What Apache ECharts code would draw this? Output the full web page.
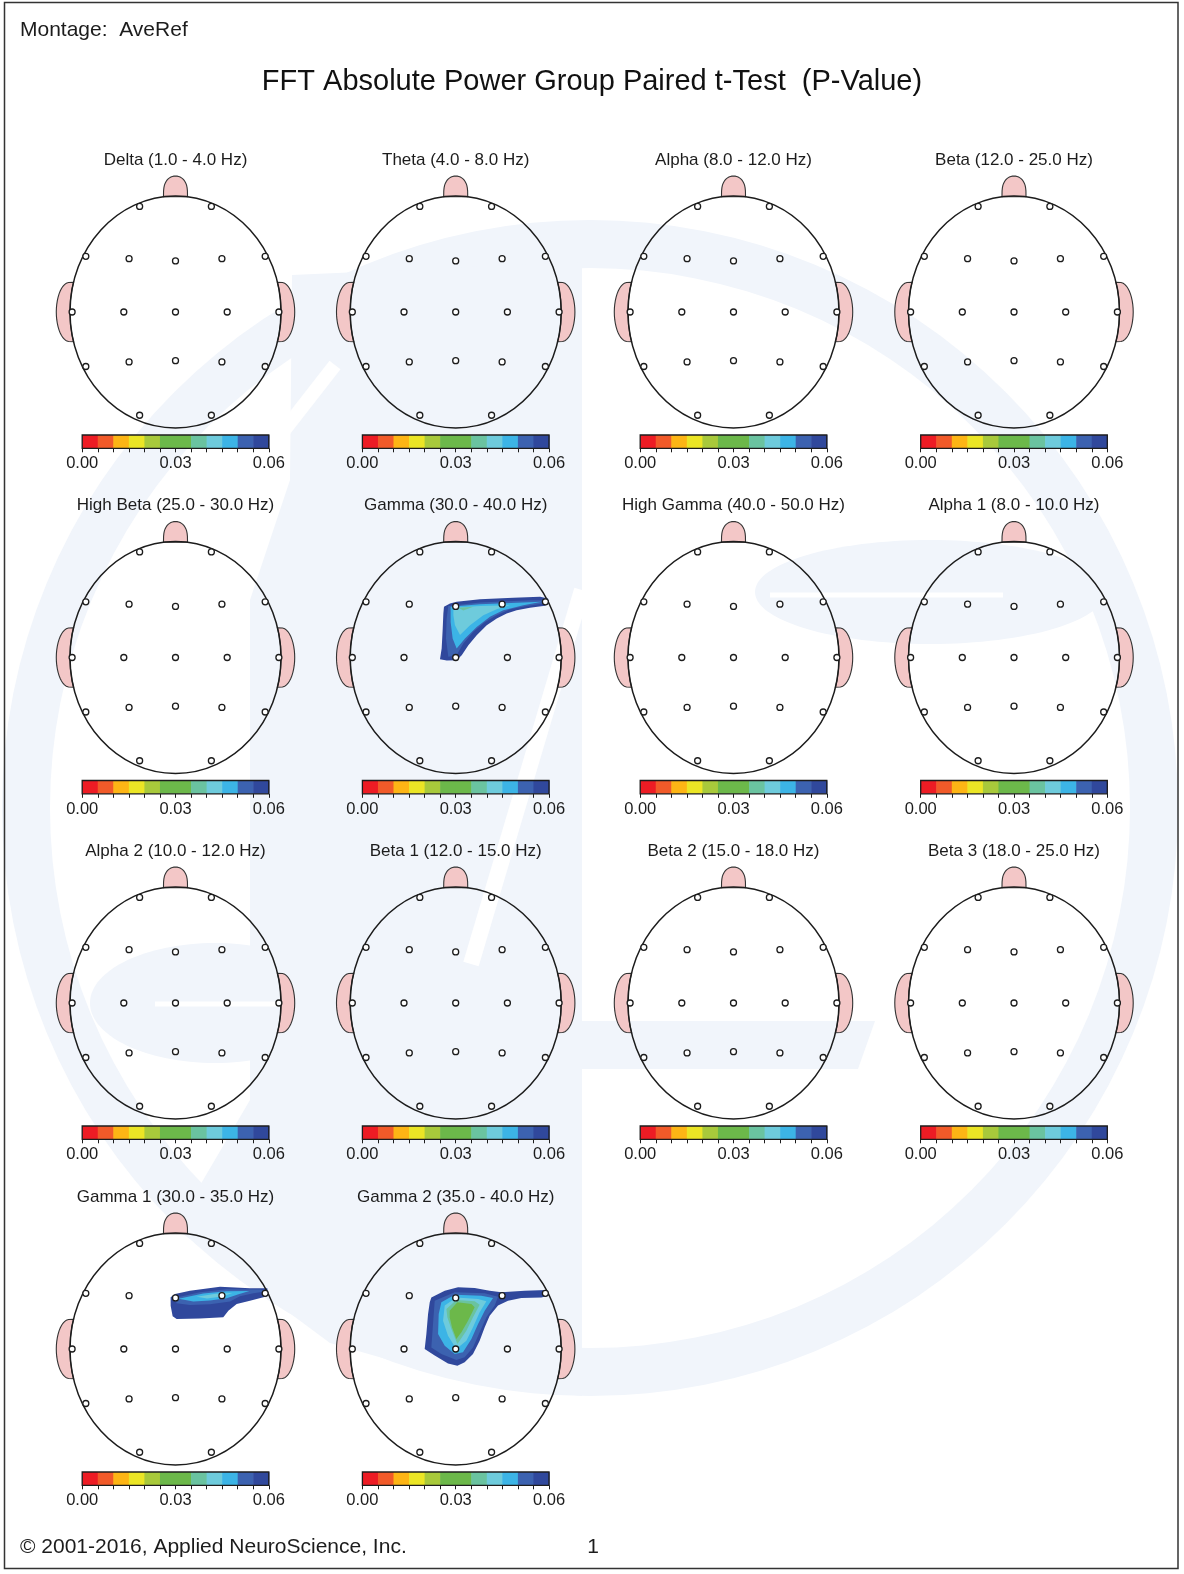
<!DOCTYPE html>
<html>
<head>
<meta charset="utf-8">
<title>FFT Absolute Power Group Paired t-Test (P-Value)</title>
<script src="https://cdn.jsdelivr.net/npm/echarts@6.0.0/dist/echarts.min.js"></script>
<style>
  html, body { margin: 0; padding: 0; background: #fff; }
  #chart { width: 1184px; height: 1574px; }
</style>
</head>
<body>
<div id="chart"></div>
<script>
// one head map per band, row by row
const bandTitles = [
  'Delta (1.0 - 4.0 Hz)', 'Theta (4.0 - 8.0 Hz)', 'Alpha (8.0 - 12.0 Hz)', 'Beta (12.0 - 25.0 Hz)',
  'High Beta (25.0 - 30.0 Hz)', 'Gamma (30.0 - 40.0 Hz)', 'High Gamma (40.0 - 50.0 Hz)', 'Alpha 1 (8.0 - 10.0 Hz)',
  'Alpha 2 (10.0 - 12.0 Hz)', 'Beta 1 (12.0 - 15.0 Hz)', 'Beta 2 (15.0 - 18.0 Hz)', 'Beta 3 (18.0 - 25.0 Hz)',
  'Gamma 1 (30.0 - 35.0 Hz)', 'Gamma 2 (35.0 - 40.0 Hz)'
]

// 10-20 electrodes in head units (x to the right, y towards the nose)
const electrodeNames = ['Fp1', 'Fp2', 'F7', 'F3', 'Fz', 'F4', 'F8', 'T3', 'C3', 'Cz', 'C4', 'T4', 'T5', 'P3', 'Pz', 'P4', 'T6', 'O1', 'O2']
const electrodeX = [-0.34, 0.34, -0.85, -0.44, 0, 0.44, 0.85, -0.98, -0.49, 0, 0.49, 0.98, -0.85, -0.44, 0, 0.44, 0.85, -0.34, 0.34]
const electrodeY = [0.91, 0.91, 0.48, 0.46, 0.44, 0.46, 0.48, 0, 0, 0, 0, 0, -0.47, -0.43, -0.42, -0.43, -0.47, -0.89, -0.89]

// p-value colour bar
const pBreaks = [0.000, 0.005, 0.010, 0.015, 0.020, 0.025, 0.030, 0.035, 0.040, 0.045, 0.050, 0.055, 0.060]
const pColors = ['#ed1c24', '#f15a29', '#fdb515', '#ebe525', '#a8c93b', '#6cb84a', '#6cb84a', '#6ac3a0', '#6ecbdc', '#3cb4e6', '#3c62b0', '#30489c']
const pTickLabels = [0.00, 0.03, 0.06]

// significant areas: upper p bound of each contour, then its outline in head units
const gammaLevels = [0.060, 0.055, 0.050, 0.045, 0.040]
const gammaContours = [
  [[-0.111, 0.437], [-0.054, 0.466], [0.009, 0.48], [0.23, 0.503], [0.546, 0.515], [0.80, 0.523], [0.875, 0.509], [0.885, 0.47], [0.846, 0.446], [0.704, 0.428], [0.578, 0.408], [0.483, 0.379], [0.389, 0.336], [0.294, 0.279], [0.199, 0.192], [0.12, 0.106], [0.057, 0.02], [0.009, -0.023], [-0.085, -0.026], [-0.149, -0.015], [-0.133, 0.078], [-0.123, 0.25], [-0.117, 0.379]],
  [[-0.070, 0.445], [0.230, 0.474], [0.704, 0.494], [0.846, 0.494], [0.831, 0.466], [0.673, 0.445], [0.515, 0.417], [0.388, 0.365], [0.278, 0.307], [0.167, 0.221], [0.072, 0.121], [0.009, 0.020], [-0.070, 0.006], [-0.092, 0.164], [-0.086, 0.336]],
  [[-0.048, 0.437], [0.230, 0.460], [0.641, 0.474], [0.815, 0.480], [0.641, 0.451], [0.451, 0.408], [0.325, 0.351], [0.199, 0.264], [0.088, 0.164], [0.009, 0.078], [-0.029, 0.164], [-0.048, 0.307]],
  [[-0.022, 0.428], [0.230, 0.445], [0.515, 0.451], [0.388, 0.417], [0.262, 0.365], [0.136, 0.279], [0.041, 0.193], [-0.007, 0.279], [-0.022, 0.365]],
  [[0.025, 0.428], [0.167, 0.437], [0.072, 0.405]]
]

const gamma1Levels = [0.060, 0.055, 0.050, 0.045]
const gamma1Contours = [
  [[-0.046, 0.446], [-0.005, 0.474], [0.137, 0.503], [0.422, 0.537], [0.706, 0.523], [0.87, 0.523], [0.88, 0.460], [0.833, 0.446], [0.706, 0.417], [0.580, 0.388], [0.501, 0.330], [0.453, 0.273], [0.232, 0.264], [0.011, 0.259], [-0.027, 0.282], [-0.046, 0.373]],
  [[-0.010, 0.440], [0.232, 0.490], [0.485, 0.515], [0.801, 0.512], [0.864, 0.497], [0.738, 0.480], [0.611, 0.455], [0.517, 0.410], [0.327, 0.385], [0.137, 0.380], [0.011, 0.395]],
  [[0.030, 0.433], [0.264, 0.478], [0.485, 0.498], [0.700, 0.499], [0.590, 0.470], [0.485, 0.438], [0.327, 0.418], [0.169, 0.410]],
  [[0.200, 0.450], [0.380, 0.476], [0.540, 0.482], [0.440, 0.452], [0.300, 0.436]]
]

const gamma2Levels = [0.060, 0.055, 0.050, 0.045, 0.040, 0.035]
const gamma2Contours = [
  [[-0.231, 0.445], [-0.104, 0.503], [0.022, 0.532], [0.180, 0.526], [0.322, 0.503], [0.433, 0.489], [0.654, 0.503], [0.859, 0.509], [0.88, 0.489], [0.88, 0.460], [0.812, 0.445], [0.622, 0.440], [0.496, 0.417], [0.401, 0.374], [0.322, 0.287], [0.275, 0.187], [0.227, 0.072], [0.164, -0.043], [0.085, -0.115], [0.016, -0.144], [-0.073, -0.124], [-0.199, -0.057], [-0.294, 0], [-0.278, 0.129], [-0.262, 0.302], [-0.246, 0.402]],
  [[-0.199, 0.417], [-0.009, 0.489], [0.275, 0.480], [0.401, 0.451], [0.370, 0.374], [0.291, 0.273], [0.227, 0.144], [0.164, 0.014], [0.085, -0.072], [0.006, -0.095], [-0.136, -0.043], [-0.231, 0.014], [-0.215, 0.216]],
  [[-0.136, 0.402], [-0.009, 0.468], [0.243, 0.460], [0.354, 0.440], [0.275, 0.330], [0.212, 0.216], [0.149, 0.086], [0.069, -0.029], [-0.009, -0.043], [-0.104, 0.029], [-0.167, 0.129], [-0.161, 0.302]],
  [[-0.104, 0.374], [0.006, 0.445], [0.212, 0.431], [0.291, 0.411], [0.227, 0.316], [0.164, 0.187], [0.101, 0.072], [0.006, 0], [-0.073, 0.115], [-0.120, 0.244]],
  [[-0.088, 0.345], [0.006, 0.422], [0.180, 0.411], [0.227, 0.382], [0.164, 0.273], [0.101, 0.158], [0.016, 0.043], [-0.041, 0.172], [-0.079, 0.273]],
  [[-0.057, 0.330], [0.016, 0.402], [0.149, 0.388], [0.180, 0.359], [0.117, 0.244], [0.054, 0.144], [0.006, 0.086], [-0.035, 0.187], [-0.057, 0.273]]
]

const contourMaps = {
  5: { levels: gammaLevels, shapes: gammaContours },
  12: { levels: gamma1Levels, shapes: gamma1Contours },
  13: { levels: gamma2Levels, shapes: gamma2Contours }
}

// page layout
const colCenters = [175.5, 455.7, 733.5, 1014]
const rowCenters = [312, 657.5, 1003, 1349]
const headRx = 105.5
const headRy = 116
const span = 1.3
const font = '"Liberation Sans", Arial, Helvetica, sans-serif'
const ink = '#1c1c1c'
const pink = '#f3c7c7'

const grid = []
const xAxis = []
const yAxis = []
const series = []
const colorSeries = []
const graphic = []

// faint logo watermark behind the maps
const tint = '#f1f5fb'
graphic.push(
  { type: 'ring', z: 0, silent: true, shape: { cx: 590, cy: 808, r: 588, r0: 540 }, style: { fill: tint } },
  { type: 'polygon', z: 0, silent: true, shape: { points: [[292, 275], [582, 262], [582, 1396], [470, 1383], [330, 1343], [175, 1228], [250, 1100], [250, 600], [290, 480]] }, style: { fill: tint } },
  { type: 'ellipse', z: 0, silent: true, shape: { cx: 215, cy: 1003, rx: 125, ry: 60 }, style: { fill: tint } },
  { type: 'ellipse', z: 0, silent: true, shape: { cx: 930, cy: 592, rx: 175, ry: 52 }, style: { fill: tint } },
  { type: 'polygon', z: 0, silent: true, shape: { points: [[582, 1021], [875, 1021], [858, 1069], [582, 1069]] }, style: { fill: tint } },
  { type: 'line', z: 1, silent: true, shape: { x1: 275, y1: 442, x2: 335, y2: 365 }, style: { stroke: '#fff', lineWidth: 14 } },
  { type: 'line', z: 1, silent: true, shape: { x1: 582, y1: 590, x2: 471, y2: 964 }, style: { stroke: '#fff', lineWidth: 16 } },
  { type: 'line', z: 1, silent: true, shape: { x1: 155, y1: 1004, x2: 280, y2: 1004 }, style: { stroke: '#fff', lineWidth: 5 } },
  { type: 'line', z: 1, silent: true, shape: { x1: 770, y1: 595, x2: 1003, y2: 595 }, style: { stroke: '#fff', lineWidth: 5 } }
)

// head outline, nose and ears, drawn in data units of the head grid
const renderHead = (params, api) => {
  const c = api.coord([0, 0])
  const rx = api.size([1, 0])[0]
  const ry = api.size([0, 1])[1]
  const earHalf = 0.256
  const earDepth = 0.13
  const ear = (side) => {
    const pts = []
    for (let k = 0; k <= 24; k++) {
      const t = (Math.PI * k) / 24
      const v = earHalf * Math.cos(t)
      const edge = Math.sqrt(1 - v * v)
      pts.push([c[0] + side * rx * (edge + earDepth * Math.pow(Math.sin(t), 0.5)), c[1] - ry * v])
    }
    for (let k = 24; k >= 0; k--) {
      const v = earHalf * Math.cos((Math.PI * k) / 24)
      pts.push([c[0] + side * rx * Math.sqrt(1 - v * v), c[1] - ry * v])
    }
    return { type: 'polygon', shape: { points: pts }, style: { fill: pink, stroke: '#333', lineWidth: 1.1 } }
  }
  const nosePts = []
  for (let k = 0; k <= 24; k++) {
    const t = (Math.PI * k) / 24
    const u = 0.114 * Math.cos(t)
    nosePts.push([c[0] + rx * u, c[1] - ry * (Math.sqrt(1 - u * u) + 0.172 * Math.pow(Math.sin(t), 0.6))])
  }
  return {
    type: 'group',
    children: [
      ear(-1),
      ear(1),
      { type: 'polygon', shape: { points: nosePts }, style: { fill: pink, stroke: '#333', lineWidth: 1.1 } },
      { type: 'ellipse', shape: { cx: c[0], cy: c[1], rx: rx, ry: ry }, style: { fill: 'none', stroke: ink, lineWidth: 1.5 } }
    ]
  }
}

bandTitles.forEach((title, i) => {
  const cx = colCenters[i % 4]
  const cy = rowCenters[Math.floor(i / 4)]

  // head grid
  const g = grid.length
  grid.push({ left: cx - span * headRx, top: cy - span * headRy, width: 2 * span * headRx, height: 2 * span * headRy, outerBoundsMode: 'none' })
  xAxis.push({ gridIndex: g, type: 'value', min: -span, max: span, show: false })
  yAxis.push({ gridIndex: g, type: 'value', min: -span, max: span, show: false })

  const m = contourMaps[i]
  if (m) {
    colorSeries.push(series.length)
    series.push({
      type: 'custom',
      xAxisIndex: g,
      yAxisIndex: g,
      z: 2,
      silent: true,
      data: m.levels.map((p, k) => [p, k]),
      renderItem: (params, api) => ({
        type: 'polygon',
        shape: { points: m.shapes[params.dataIndex].map((pt) => api.coord(pt)) },
        style: { fill: api.visual('color') }
      })
    })
  }

  series.push({
    type: 'custom',
    xAxisIndex: g,
    yAxisIndex: g,
    z: 3,
    silent: true,
    data: [[0, 0]],
    renderItem: renderHead
  })

  series.push({
    type: 'scatter',
    xAxisIndex: g,
    yAxisIndex: g,
    z: 4,
    silent: true,
    symbol: 'circle',
    symbolSize: 6,
    itemStyle: { color: '#fff', borderColor: ink, borderWidth: 1.3, opacity: 1 },
    data: electrodeNames.map((n, k) => ({ name: n, value: [electrodeX[k], electrodeY[k]] }))
  })

  // colour bar under the head
  const b = grid.length
  grid.push({ left: cx - 93.3, top: cy + 123, width: 186.6, height: 13.3, outerBoundsMode: 'none' })
  xAxis.push({
    gridIndex: b,
    type: 'value',
    min: 0,
    max: 0.06,
    interval: 0.005,
    axisLine: { show: false },
    splitLine: { show: false },
    axisTick: { show: true, inside: false, length: 4, lineStyle: { color: ink, width: 1 } },
    axisLabel: {
      show: true,
      margin: 7,
      color: ink,
      fontSize: 16.5,
      fontFamily: font,
      showMinLabel: true,
      showMaxLabel: true,
      formatter: (v) => {
        const t = pTickLabels.find((x) => Math.abs(x - v) < 1e-9)
        return t === undefined ? '' : t.toFixed(2)
      }
    }
  })
  yAxis.push({ gridIndex: b, type: 'value', min: 0, max: 1, show: false })
  colorSeries.push(series.length)
  series.push({
    type: 'custom',
    xAxisIndex: b,
    yAxisIndex: b,
    z: 2,
    silent: true,
    data: pColors.map((c, k) => [pBreaks[k + 1], pBreaks[k]]),
    renderItem: (params, api) => {
      const p0 = api.coord([api.value(1), 0])
      const p1 = api.coord([api.value(0), 1])
      const children = [{
        type: 'rect',
        shape: { x: p0[0], y: p1[1], width: p1[0] - p0[0] + 0.6, height: p0[1] - p1[1] },
        style: { fill: api.visual('color') }
      }]
      if (params.dataIndex === pColors.length - 1) {
        const cs = params.coordSys
        children.push({
          type: 'rect',
          z2: 10,
          shape: { x: cs.x, y: cs.y, width: cs.width, height: cs.height },
          style: { fill: 'none', stroke: ink, lineWidth: 1.3 }
        })
      }
      return { type: 'group', children }
    }
  })

  graphic.push({
    type: 'text',
    z: 100,
    x: cx,
    y: cy - 152,
    silent: true,
    style: { text: title, fontSize: 17, fontFamily: font, fill: ink, align: 'center', verticalAlign: 'middle' }
  })
})

graphic.push(
  { type: 'rect', z: 100, silent: true, shape: { x: 4.5, y: 2.5, width: 1173.5, height: 1566 }, style: { fill: 'none', stroke: '#333', lineWidth: 1.5 } },
  { type: 'text', z: 100, x: 20, y: 30, silent: true, style: { text: 'Montage:  AveRef', fontSize: 21, fontFamily: font, fill: ink, align: 'left', verticalAlign: 'middle' } },
  { type: 'text', z: 100, x: 592, y: 81.5, silent: true, style: { text: 'FFT Absolute Power Group Paired t-Test  (P-Value)', fontSize: 29, fontFamily: font, fill: '#111', align: 'center', verticalAlign: 'middle' } },
  { type: 'text', z: 100, x: 20, y: 1547, silent: true, style: { text: '\u00a9 2001-2016, Applied NeuroScience, Inc.', fontSize: 21, fontFamily: font, fill: ink, align: 'left', verticalAlign: 'middle' } },
  { type: 'text', z: 100, x: 593, y: 1547, silent: true, style: { text: '1', fontSize: 21, fontFamily: font, fill: ink, align: 'center', verticalAlign: 'middle' } }
)

const chart = echarts.init(document.getElementById('chart'))
chart.setOption({
  animation: false,
  backgroundColor: '#fff',
  tooltip: { show: false },
  grid,
  xAxis,
  yAxis,
  visualMap: {
    type: 'piecewise',
    show: false,
    dimension: 0,
    seriesIndex: colorSeries,
    pieces: pColors.map((c, k) => (k === 0
      ? { gte: pBreaks[k], lte: pBreaks[k + 1], color: c }
      : { gt: pBreaks[k], lte: pBreaks[k + 1], color: c }))
  },
  series,
  graphic
})
</script>
</body>
</html>
